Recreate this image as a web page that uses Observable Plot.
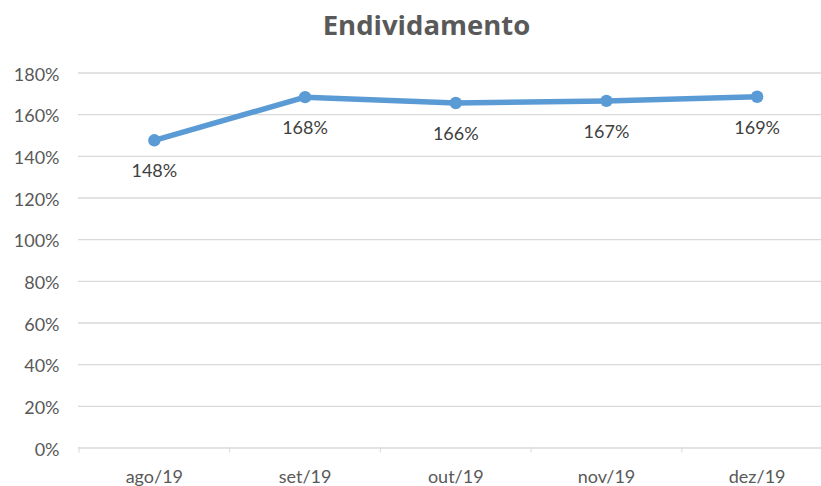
<!DOCTYPE html>
<html>
<head>
<meta charset="utf-8">
<script src="https://cdn.jsdelivr.net/npm/d3@7"></script>
<script src="https://cdn.jsdelivr.net/npm/@observablehq/plot@0.6"></script>
<style>
  html, body { margin: 0; padding: 0; background: #fff; }
  #title { height: 50px; line-height: 49px; width: 821px; font-family: "Open Sans", Lato, sans-serif; font-weight: bold; font-size: 27.5px; color: #595959; text-align: center; padding-left: 32px; box-sizing: border-box; }
</style>
</head>
<body>
<div id="title">Endividamento</div>
<div id="chart"></div>
<script>
const categories = ["ago/19", "set/19", "out/19", "nov/19", "dez/19"];
const values = [1.477, 1.684, 1.656, 1.666, 1.686];
const yTicks = [0, 0.2, 0.4, 0.6, 0.8, 1.0, 1.2, 1.4, 1.6, 1.8];

const data = categories.map((c, i) => ({i, c, v: values[i]}));
const centers = categories.map((c, i) => i);
const bounds = d3.range(categories.length + 1).map(i => i - 0.5);

const plot = Plot.plot({
  width: 821,
  height: 436,
  marginLeft: 78,
  marginRight: 0,
  marginTop: 22.5,
  marginBottom: 38.5,
  style: {fontFamily: "Lato, 'Open Sans', sans-serif", fontSize: "18px", color: "#595959", background: "#fff"},
  x: {domain: [-0.5, categories.length - 0.5], range: [78.5, 832]},
  y: {domain: [0, 1.8]},
  marks: [
    Plot.gridY(yTicks, {stroke: "#d9d9d9", strokeOpacity: 1, strokeWidth: 1.3}),
    Plot.axisY(yTicks, {tickSize: 0, tickPadding: 19, tickFormat: d => Math.round(d * 100) + "%", label: null, dy: 2}),
    Plot.axisX(bounds, {tickSize: 5, tickFormat: () => "", label: null, stroke: "#d9d9d9"}),
    Plot.axisX(centers, {tickSize: 0, tickPadding: 22, tickFormat: i => categories[i], label: null}),
    Plot.line(data, {x: "i", y: "v", stroke: "#5B9BD5", strokeWidth: 5.5}),
    Plot.dot(data, {x: "i", y: "v", r: 6.2, fill: "#5B9BD5"}),
    Plot.text(data, {x: "i", y: "v", text: d => Math.round(d.v * 100) + "%", dy: 31, fill: "#404040", fontSize: 18})
  ]
});
document.getElementById("chart").appendChild(plot);
</script>
</body>
</html>
